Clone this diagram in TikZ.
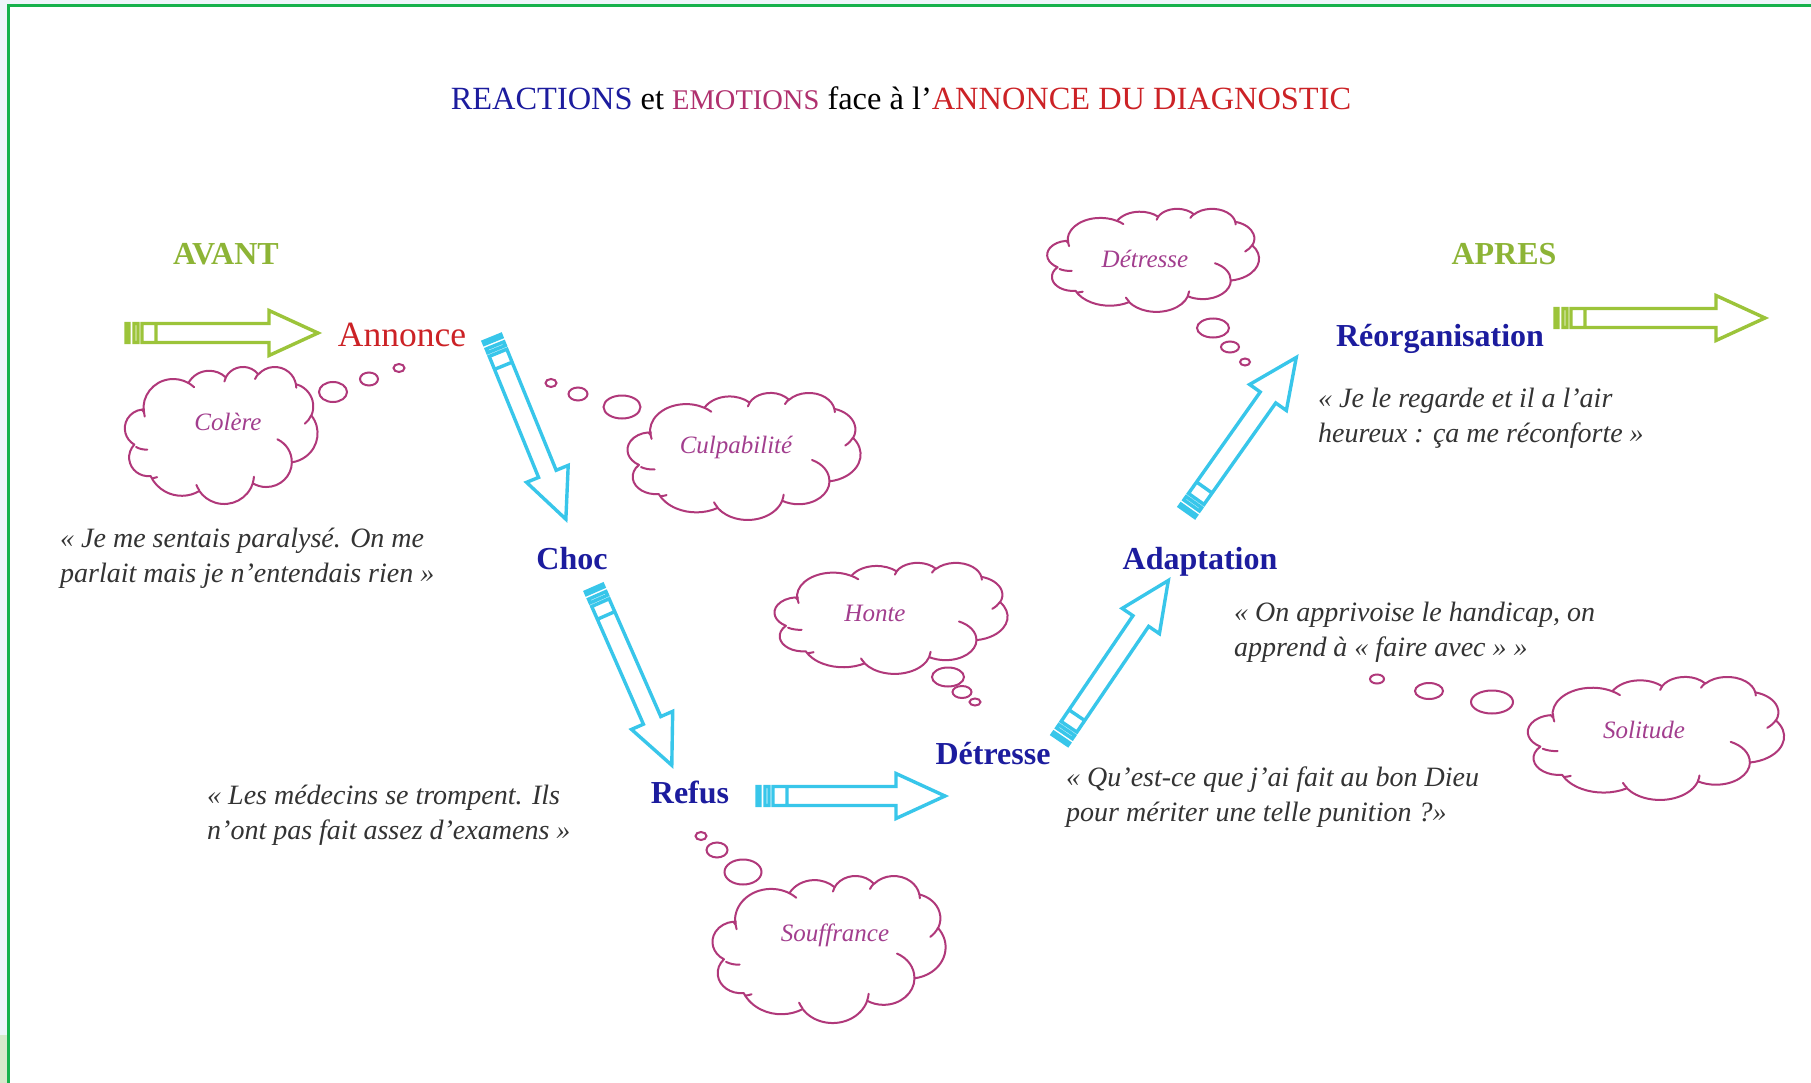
\documentclass[tikz,border=0pt]{standalone}
\usepackage{fontspec}
\setmainfont{Liberation Serif}
\usetikzlibrary{calc,shapes.geometric}
\definecolor{bgblue}{HTML}{EEF5FA}
\definecolor{blobgreen}{HTML}{D6EACB}
\definecolor{framegreen}{HTML}{16B24C}
\definecolor{tblue}{HTML}{1C1C9E}
\definecolor{tmag}{HTML}{B0306E}
\definecolor{tred}{HTML}{CC2226}
\definecolor{lgreen}{HTML}{9CC43A}
\definecolor{agreen}{HTML}{8DB436}
\definecolor{acyan}{HTML}{38C6EA}
\definecolor{cloudline}{HTML}{B0387A}
\definecolor{cloudtxt}{HTML}{A23E8E}
\definecolor{quotetxt}{HTML}{333333}
\newcommand\carc[4]{%
  \pgfextra{%
    \pgfmathsetmacro\cta{atan2(sin(#3)*#1, cos(#3)*#2)}%
    \pgfmathsetmacro\ctb{atan2(sin(#3+#4)*#1, cos(#3+#4)*#2)}%
    \pgfmathsetmacro\ctd{mod(\ctb-\cta+720,360)}%
    \xdef\gcta{\cta}\xdef\gctd{\ctd}}%
  arc[start angle=\gcta, delta angle=\gctd, x radius=#1, y radius=#2]}
\tikzset{
  pics/sarrow/.style args={#1/#2}{code={
    \draw[#2, line width=3.4, line join=miter]
      (0,-9.5) rectangle (3,9.5)
      (8,-9.5) rectangle (12,9.5)
      (16,-9.5) rectangle (30,9.5)
      (30,-9.5) -- ({#1-52},-9.5) -- ({#1-52},-22.5) -- ({#1-3},0)
      -- ({#1-52},22.5) -- ({#1-52},9.5) -- (30,9.5);
  }},
  pics/pptcloud/.style args={#1/#2}{code={
    \pgfmathsetmacro\cwx{#1/432}\pgfmathsetmacro\chy{#2/432}
    \begin{scope}[x=\cwx pt, y=-\chy pt, shift={(-216,-216)}]
      \draw[cloudline, line width=2, line join=round]
        (39.00,143.70)
        \carc{67.53}{91.90}{-190.487}{123.781}
        \carc{53.33}{72.67}{-144.102}{89.945}
        \carc{43.65}{59.45}{-145.808}{99.723}
        \carc{48.57}{65.95}{-130.986}{117.242}
        \carc{53.33}{72.73}{-78.709}{109.027}
        \carc{67.75}{92.20}{-46.267}{130.269}
        \carc{57.85}{78.67}{0.625}{114.033}
        \carc{67.52}{92.15}{22.452}{115.173}
        \carc{77.20}{105.43}{66.243}{82.271}
        \carc{43.60}{59.18}{-274.942}{146.736}
        \carc{43.45}{59.45}{-246.829}{152.519}
        -- cycle;
      \draw[cloudline, line width=2, line cap=round]
        (46.93,261.77) \carc{43.45}{59.45}{86.742}{26.430}
        (69.28,348.99) \carc{43.60}{59.18}{73.611}{11.447}
        (164.78,390.90) \carc{67.52}{92.15}{137.624}{14.081}
        (288.27,347.51) \carc{67.52}{92.15}{6.453}{15.998}
        (341.29,229.54) \carc{57.85}{78.67}{-70.292}{70.917}
        (417.98,153.54) \carc{53.33}{72.73}{30.318}{27.752}
        (383.24,54.26) \carc{48.57}{65.95}{-13.744}{14.859}
        (290.78,39.52) \carc{48.57}{65.95}{-149.181}{18.195}
        (221.41,47.20) \carc{43.65}{59.45}{-163.494}{17.686}
        (140.00,51.92) \carc{67.53}{91.90}{-66.707}{12.319}
        (41.27,157.89) \carc{67.53}{91.90}{161.347}{20.444};
    \end{scope}
  }},
  stage/.style={font=\bfseries\fontsize{32}{36}\selectfont, text=tblue, inner sep=0},
  phase/.style={font=\bfseries\fontsize{32}{36}\selectfont, text=agreen, inner sep=0},
  quote/.style={font=\itshape\fontsize{28}{35}\selectfont, text=quotetxt, align=left, anchor=west, inner sep=0},
  bubble/.style={ellipse, draw=cloudline, line width=2, inner sep=0},
  cloudlabel/.style={font=\itshape\fontsize{25}{30}\selectfont, text=cloudtxt, inner sep=0},
}
\newcommand\flowarrow[3]{%
  \path let \p1=($(#3)-(#2)$) in \pgfextra{%
    \pgfmathsetmacro\arrang{atan2(\y1,\x1)}%
    \pgfmathsetmacro\arrlen{veclen(\x1,\y1)}%
    \global\let\garrang\arrang \global\let\garrlen\arrlen};
  \pic[rotate=\garrang] at (#2) {sarrow={\garrlen/#1}};
}
\begin{document}
\begin{tikzpicture}[x=1pt,y=-1pt]
\useasboundingbox (0,0) rectangle (1811,1083);
\fill[bgblue] (0,0) rectangle (1811,1083);
\fill[blobgreen] (0,1035) rectangle (8.5,1083);
\fill[white] (8.5,5.5) rectangle (1811,1083);
\draw[framegreen, line width=2.6] (8.5,1083) -- (8.5,5.5) -- (1811,5.5);

% title
\node[inner sep=0, font=\fontsize{32.4}{38}\selectfont] (title) at (901,98)
  {\textcolor{tblue}{REACTIONS} et \textcolor{tmag}{\fontsize{28.5}{38}\selectfont EMOTIONS} face à l’\textcolor{tred}{ANNONCE DU DIAGNOSTIC}};

% phases
\node[phase] (avant) at (226,254) {AVANT};
\node[phase] (apres) at (1504,254) {APRES};

% stages
\node[inner sep=0, font=\fontsize{35.5}{40}\selectfont, text=tred] (annonce) at (402,335) {Annonce};
\node[stage] (choc) at (572,559) {Choc};
\node[stage] (refus) at (690,792) {Refus};
\node[stage] (detresse) at (993,754) {Détresse};
\node[stage] (adaptation) at (1200,562) {Adaptation};
\node[stage] (reorg) at (1440,339) {Réorganisation};

% arrow end points
\coordinate (g1s) at (126,333);  \coordinate (g1e) at (321,333);
\coordinate (c1s) at (492,338);  \coordinate (c1e) at (567,522);
\coordinate (c2s) at (594,588);  \coordinate (c2e) at (673,768);
\coordinate (c3s) at (757,796);  \coordinate (c3e) at (948,796);
\coordinate (c4s) at (1060,740); \coordinate (c4e) at (1170,578);
\coordinate (c5s) at (1187,512); \coordinate (c5e) at (1298,355);
\coordinate (g2s) at (1555,318); \coordinate (g2e) at (1768,318);

\flowarrow{lgreen}{g1s}{g1e}
\flowarrow{acyan}{c1s}{c1e}
\flowarrow{acyan}{c2s}{c2e}
\flowarrow{acyan}{c3s}{c3e}
\flowarrow{acyan}{c4s}{c4e}
\flowarrow{acyan}{c5s}{c5e}
\flowarrow{lgreen}{g2s}{g2e}

% quotes
\node[quote] (q1) at (60,558) {« Je me sentais paralysé. On me\\parlait mais je n’entendais rien »};
\node[quote] (q2) at (207,815) {« Les médecins se trompent. Ils\\n’ont pas fait assez d’examens »};
\node[quote] (q3) at (1066,797) {« Qu’est-ce que j’ai fait au bon Dieu\\pour mériter une telle punition ?»};
\node[quote] (q4) at (1234,632) {« On apprivoise le handicap, on\\apprend à « faire avec » »};
\node[quote] (q5) at (1318,418) {« Je le regarde et il a l’air\\heureux : ça me réconforte »};

% clouds
\pic (colere) at (222,435) {pptcloud={191/137}};
\node[cloudlabel] (colereT) at (228,422) {Colère};
\node[bubble, minimum width=28, minimum height=20] (colereB1) at (333,392) {};
\node[bubble, minimum width=18, minimum height=13] (colereB2) at (369,379) {};
\node[bubble, minimum width=11, minimum height=8] (colereB3) at (399,368) {};

\pic (culpa) at (745,456) {pptcloud={231/127}};
\node[cloudlabel] (culpaT) at (736,447) {Culpabilité};
\node[bubble, minimum width=37, minimum height=23] (culpaB1) at (622,407) {};
\node[bubble, minimum width=19, minimum height=13] (culpaB2) at (578,394) {};
\node[bubble, minimum width=11, minimum height=8] (culpaB3) at (551,383) {};

\pic (honte) at (892,618) {pptcloud={231/111}};
\node[cloudlabel] (honteT) at (875,613) {Honte};
\node[bubble, minimum width=32, minimum height=19] (honteB1) at (948,677) {};
\node[bubble, minimum width=19, minimum height=12] (honteB2) at (962,692) {};
\node[bubble, minimum width=11, minimum height=7] (honteB3) at (975,702) {};

\pic (souff) at (830,949) {pptcloud={231/147}};
\node[cloudlabel] (souffT) at (835,935) {Souffrance};
\node[bubble, minimum width=37, minimum height=25] (souffB1) at (743,872) {};
\node[bubble, minimum width=21, minimum height=15] (souffB2) at (717,850) {};
\node[bubble, minimum width=11, minimum height=8] (souffB3) at (701,836) {};

\pic (detr) at (1154,260) {pptcloud={210/103}};
\node[cloudlabel] (detrT) at (1145,259) {Détresse};
\node[bubble, minimum width=32, minimum height=19] (detrB1) at (1213,328) {};
\node[bubble, minimum width=18, minimum height=11] (detrB2) at (1230,347) {};
\node[bubble, minimum width=10, minimum height=7] (detrB3) at (1245,362) {};

\pic (solit) at (1657,738) {pptcloud={254/123}};
\node[cloudlabel] (solitT) at (1644,730) {Solitude};
\node[bubble, minimum width=42, minimum height=23] (solitB1) at (1492,702) {};
\node[bubble, minimum width=28, minimum height=16] (solitB2) at (1429,691) {};
\node[bubble, minimum width=14, minimum height=9] (solitB3) at (1377,679) {};
\end{tikzpicture}
\end{document}
